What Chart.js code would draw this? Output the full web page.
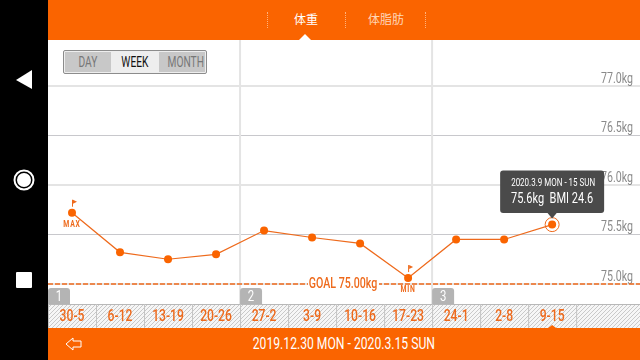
<!DOCTYPE html>
<html>
<head>
  <title>Weight Graph</title>
  <script src="https://cdn.jsdelivr.net/npm/chart.js"></script>
  <style>
    html, body { margin: 0; padding: 0; background: #fff; }
    #wrap { position: relative; width: 640px; height: 360px; overflow: hidden; font-family: Roboto, sans-serif; }
    canvas { position: absolute; left: 0; top: 0; }
    .abs { position: absolute; }
    .nar { display: inline-block; transform: scaleX(0.76); white-space: nowrap; }
    #side { left: 0; top: 0; width: 48px; height: 360px; background: #000; }
    #head { left: 48px; top: 0; width: 592px; height: 40px; background: #fa6400; }
    #foot { left: 48px; top: 328px; width: 592px; height: 32px; background: #fa6400; color: #fff; font-size: 16px; line-height: 32px; text-align: center; }
    .tab { top: 10px; font: 12px/18px "Noto Sans CJK JP", sans-serif; color: #fff; }
    .sep { top: 12px; height: 16px; width: 0; border-left: 1px dotted #ffb27a; }
    #toggle { left: 63px; top: 50px; width: 142px; height: 22px; border: 1px solid #8c8c8c; border-radius: 2px; display: flex; background: #eee; font-size: 15px; text-align: center; color: #777; }
    #toggle .nar { transform: scaleX(0.68); }
  </style>
</head>
<body>
<div id="wrap">
  <canvas id="weightChart" width="640" height="360"></canvas>
  <div class="abs" id="side">
    <svg width="48" height="360">
      <polygon points="16,80 32,70 32,89" fill="#fff"/>
      <circle cx="24" cy="180" r="9.5" fill="none" stroke="#fff" stroke-width="2"/>
      <circle cx="24" cy="180" r="7" fill="#fff"/>
      <rect x="16" y="272" width="16" height="16" rx="1" fill="#fff"/>
    </svg>
  </div>
  <div class="abs" id="head">
    <svg class="abs" style="left:0;top:0" width="592" height="40">
      <polygon points="257,34 251,40 263,40" fill="#fff"/>
    </svg>
    <div class="abs sep" style="left:219px"></div>
    <div class="abs tab" style="left:246px">体重</div>
    <div class="abs sep" style="left:297px"></div>
    <div class="abs tab" style="left:320px;color:#ffd6b8">体脂肪</div>
    <div class="abs sep" style="left:377px"></div>
  </div>
  <div class="abs" id="toggle">
    <div style="width:46px;background:#c8c8c8;margin:1px 0 1px 1px;line-height:20px"><span class="nar">DAY</span></div>
    <div style="width:48px;color:#111;line-height:22px"><span class="nar">WEEK</span></div>
    <div style="width:46px;background:#c8c8c8;margin:1px 1px 1px 0;line-height:20px"><span class="nar">MONTH</span></div>
  </div>
  <div class="abs" id="foot">
    <svg class="abs" style="left:17px;top:9px" width="18" height="14">
      <polygon points="1,7 8,1 8,4 16,4 16,10 8,10 8,13" fill="none" stroke="#fff" stroke-width="1"/>
    </svg>
    <span class="nar">2019.12.30 MON - 2020.3.15 SUN</span>
  </div>
</div>

<script>
  const weekLabels = ["30-5", "6-12", "13-19", "20-26", "27-2", "3-9", "10-16", "17-23", "24-1", "2-8", "9-15"];
  const weightValues = [75.72, 75.32, 75.25, 75.30, 75.54, 75.47, 75.41, 75.06, 75.45, 75.45, 75.60];
  const goalValue = 75.0;
  const monthStarts = [3.5, 7.5];
  const monthTabs = ["1", "2", "3"];
  const tipTitle = "2020.3.9 MON - 15 SUN";
  const tipBody = "75.6kg  BMI 24.6";

  const ORANGE = "#ee6a1c";
  const maxIdx = weightValues.indexOf(Math.max(...weightValues));
  const minIdx = weightValues.indexOf(Math.min(...weightValues));
  const lastIdx = weightValues.length - 1;

  // no condensed font on the box, so squeeze Roboto sideways
  function narrow(ctx, text, x, y, size, color, align, weight) {
    ctx.save();
    ctx.translate(x, y);
    ctx.scale(0.76, 1);
    ctx.font = (weight || "normal") + " " + size + "px Roboto, sans-serif";
    ctx.fillStyle = color;
    ctx.textAlign = align || "center";
    ctx.textBaseline = "middle";
    ctx.fillText(text, 0, 0);
    ctx.restore();
  }

  function flag(ctx, x, y) {
    ctx.fillStyle = ORANGE;
    ctx.fillRect(x, y, 1, 7);
    ctx.beginPath();
    ctx.moveTo(x + 1, y);
    ctx.lineTo(x + 5, y + 2);
    ctx.lineTo(x + 1, y + 4);
    ctx.fill();
  }

  const backdrop = {
    id: "backdrop",
    beforeDraw(chart) {
      const { ctx, chartArea, scales: { x } } = chart;
      const tile = document.createElement("canvas");
      tile.width = tile.height = 4;
      const t = tile.getContext("2d");
      t.fillStyle = "#f6f6f6";
      t.fillRect(0, 0, 4, 4);
      t.strokeStyle = "#c9c9c9";
      t.lineWidth = 1;
      t.beginPath();
      t.moveTo(-1, 5); t.lineTo(5, -1);
      t.moveTo(-1, 1); t.lineTo(1, -1);
      t.moveTo(3, 5); t.lineTo(5, 3);
      t.stroke();
      ctx.save();
      ctx.fillStyle = ctx.createPattern(tile, "repeat");
      ctx.fillRect(chartArea.left, chartArea.bottom, chartArea.width, 24);
      ctx.fillStyle = "#b8b8b8";
      ctx.fillRect(chartArea.left, chartArea.bottom, chartArea.width, 1);
      ctx.fillStyle = "#c4c4c4";
      for (let i = 0; i <= weekLabels.length; i++) {
        ctx.fillRect(x.getPixelForValue(i - 0.5), chartArea.bottom, 1, 24);
      }
      ctx.restore();
    },
    // month lines and tabs go behind the data
    beforeDatasetsDraw(chart) {
      const { ctx, chartArea, scales: { x, y } } = chart;
      ctx.save();
      ctx.strokeStyle = "#e4e4e4";
      ctx.lineWidth = 2;
      monthStarts.forEach(m => {
        const px = x.getPixelForValue(m);
        ctx.beginPath();
        ctx.moveTo(px, chartArea.top);
        ctx.lineTo(px, chartArea.bottom);
        ctx.stroke();
      });
      [-0.5].concat(monthStarts).forEach((m, i) => {
        const px = x.getPixelForValue(m);
        ctx.fillStyle = "#b4b4b4";
        ctx.beginPath();
        ctx.roundRect(px, chartArea.bottom - 16, 22, 16, [3, 3, 0, 0]);
        ctx.fill();
        narrow(ctx, monthTabs[i], px + 11, chartArea.bottom - 7, 15, "#fff");
      });
      // axis labels, placed from the scales' own ticks
      x.ticks.forEach(t => {
        if (weekLabels[t.value]) {
          narrow(ctx, weekLabels[t.value], x.getPixelForValue(t.value), chartArea.bottom + 13, 16, ORANGE, "center", "500");
        }
      });
      y.ticks.forEach(t => {
        narrow(ctx, t.value.toFixed(1) + "kg", 633, y.getPixelForValue(t.value) - 7, 14, "#8a8a8a", "right");
      });
      ctx.restore();
    }
  };

  // goal text, MAX/MIN marks and the bubble on the last week
  const overlay = {
    id: "overlay",
    afterDatasetsDraw(chart) {
      const { ctx, scales: { x, y } } = chart;
      ctx.save();
      const goalY = y.getPixelForValue(goalValue);
      ctx.fillStyle = "#fff";
      ctx.fillRect(308, goalY - 7, 71, 12);
      narrow(ctx, "GOAL 75.00kg", 343, goalY, 14, ORANGE, "center", "500");

      const maxX = x.getPixelForValue(maxIdx), maxY = y.getPixelForValue(weightValues[maxIdx]);
      const minX = x.getPixelForValue(minIdx), minY = y.getPixelForValue(weightValues[minIdx]);
      flag(ctx, maxX, maxY - 13);
      flag(ctx, minX, minY - 13);
      ctx.letterSpacing = "1px";
      narrow(ctx, "MAX", maxX, maxY + 12, 9, ORANGE, "center", "bold");
      narrow(ctx, "MIN", minX, minY + 12, 9, ORANGE, "center", "bold");
      ctx.letterSpacing = "0px";

      const px = x.getPixelForValue(lastIdx), py = y.getPixelForValue(weightValues[lastIdx]);
      ctx.fillStyle = "#4a4a4a";
      ctx.beginPath();
      ctx.roundRect(px - 52, py - 54, 104, 42.5, 3);
      ctx.fill();
      ctx.beginPath();
      ctx.moveTo(px - 5, py - 12);
      ctx.lineTo(px + 5, py - 12);
      ctx.lineTo(px, py - 6);
      ctx.fill();
      narrow(ctx, tipTitle, px + 1, py - 41, 10.5, "#fff");
      narrow(ctx, tipBody, px, py - 25, 14.5, "#fff");

      ctx.fillStyle = "#fa6400";
      ctx.beginPath();
      ctx.moveTo(px, 325);
      ctx.lineTo(px - 4, 328);
      ctx.lineTo(px + 4, 328);
      ctx.fill();
      ctx.restore();
    }
  };

  const ctx = document.getElementById("weightChart").getContext("2d");
  new Chart(ctx, {
    type: "line",
    data: {
      datasets: [{
        data: weightValues.map((v, i) => ({ x: i, y: v })),
        borderColor: ORANGE,
        borderWidth: 1.2,
        backgroundColor: "#fa6400",
        pointRadius: 4,
        pointBorderWidth: 0,
        tension: 0,
        order: 1
      }, {
        data: [{ x: lastIdx, y: weightValues[lastIdx] }],
        showLine: false,
        pointRadius: 7,
        pointBackgroundColor: "#fff",
        pointBorderColor: ORANGE,
        pointBorderWidth: 1,
        order: 2
      }, {
        data: [{ x: -0.5, y: goalValue }, { x: 11.83, y: goalValue }],
        borderColor: ORANGE,
        borderWidth: 1.5,
        borderDash: [5, 2],
        pointRadius: 0,
        order: 3
      }]
    },
    options: {
      responsive: false,
      animation: false,
      layout: { autoPadding: false, padding: { left: 48, top: 40, bottom: 32, right: 0 } },
      plugins: { legend: { display: false }, tooltip: { enabled: false } },
      scales: {
        x: {
          type: "linear",
          min: -0.5,
          max: 11.83,
          grid: { display: false },
          border: { display: false },
          afterFit: s => { s.height = 24; },
          ticks: { display: false, stepSize: 1, includeBounds: false, autoSkip: false, maxRotation: 0 }
        },
        y: {
          position: "right",
          min: 74.798,
          max: 77.465,
          border: { display: false },
          afterFit: s => { s.width = 0; },
          grid: {
            drawTicks: false,
            // whole kilos are the wide pale lines, half kilos thin and darker
            color: c => c.tick.value % 1 === 0 ? "#e4e4e4" : "#c8c8cc",
            lineWidth: c => c.tick.value % 1 === 0 ? 2 : 1
          },
          ticks: { display: false, stepSize: 0.5, includeBounds: false }
        }
      }
    },
    plugins: [backdrop, overlay]
  });
</script>
</body>
</html>
